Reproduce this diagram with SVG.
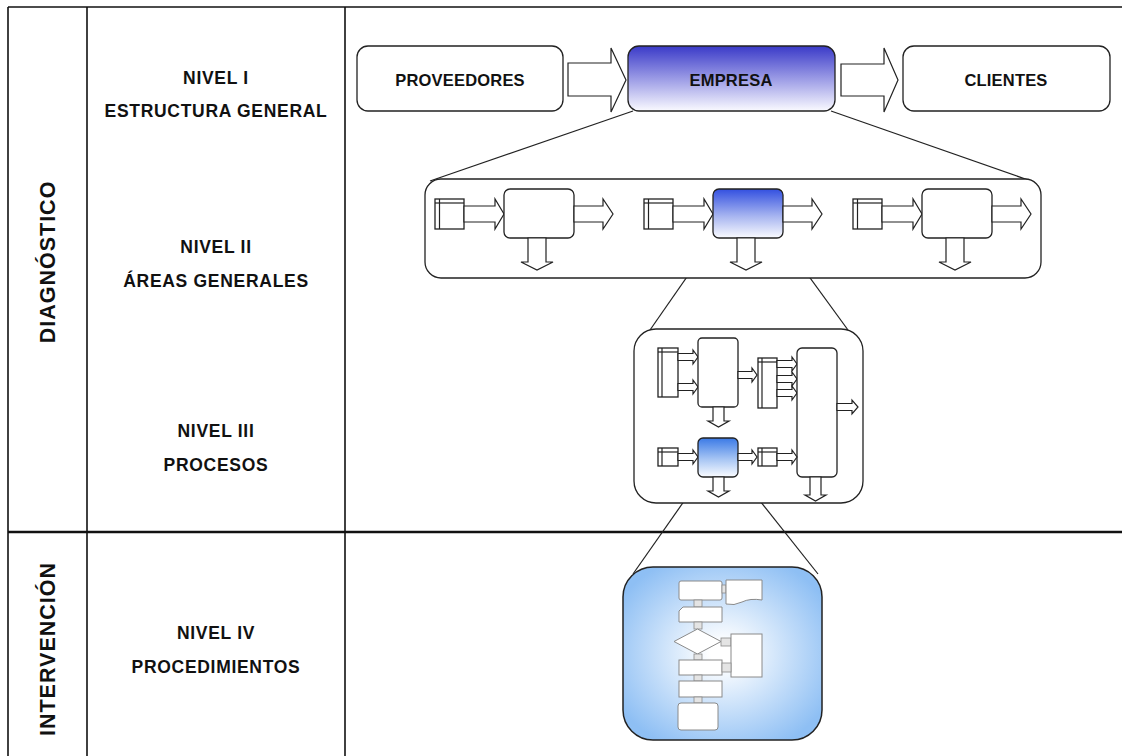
<svg xmlns="http://www.w3.org/2000/svg" width="1122" height="756" viewBox="0 0 1122 756">
<style>
.grid{stroke:#111;stroke-width:1.6;fill:none}
.lbl{font-family:"Liberation Sans",Arial,sans-serif;font-weight:bold;font-size:17.5px;letter-spacing:0.7px;fill:#111;text-anchor:middle}
.vlbl{font-family:"Liberation Sans",Arial,sans-serif;font-weight:bold;font-size:21.5px;letter-spacing:1px;fill:#111;text-anchor:middle}
.btxt{font-family:"Liberation Sans",Arial,sans-serif;font-weight:bold;font-size:16.5px;letter-spacing:0.2px;fill:#111;text-anchor:middle}
.box{fill:#fff;stroke:#222;stroke-width:1.3}
.arr{fill:#fff;stroke:#222;stroke-width:1.2;stroke-linejoin:miter}
.ln{stroke:#222;stroke-width:1.2;fill:none}
.fc{fill:#fff;stroke:#8a8a8a;stroke-width:1}
.fcc{fill:#e4e4e4;stroke:#8a8a8a;stroke-width:0.8}
.con{stroke:#222;stroke-width:1.2;fill:none}
</style>
<defs>
<linearGradient id="g1" x1="0" y1="0" x2="0" y2="1">
<stop offset="0" stop-color="#3a3ac8"/>
<stop offset="0.55" stop-color="#a4a4e8"/>
<stop offset="1" stop-color="#fafaff"/>
</linearGradient>
<linearGradient id="g2" x1="0" y1="0" x2="0" y2="1">
<stop offset="0" stop-color="#3350e0"/>
<stop offset="0.55" stop-color="#a6b4f0"/>
<stop offset="1" stop-color="#fafbff"/>
</linearGradient>
<linearGradient id="g3" x1="0" y1="0" x2="0" y2="1">
<stop offset="0" stop-color="#3b7ae6"/>
<stop offset="0.55" stop-color="#a8c6f4"/>
<stop offset="1" stop-color="#fafcff"/>
</linearGradient>
<radialGradient id="g4" cx="0.5" cy="0.5" r="0.6">
<stop offset="0.1" stop-color="#ffffff"/>
<stop offset="1" stop-color="#8ebff4"/>
</radialGradient>
</defs>

<g id="table">
<line class="grid" x1="8" y1="7" x2="1122" y2="7"/>
<line class="grid" x1="8" y1="7" x2="8" y2="756"/>
<line class="grid" x1="87" y1="7" x2="87" y2="756"/>
<line class="grid" x1="345" y1="7" x2="345" y2="756"/>
<line x1="8" y1="532" x2="1122" y2="532" stroke="#111" stroke-width="2.6"/>
</g>

<g id="labels">
<text class="vlbl" transform="translate(55,262) rotate(-90)">DIAGNÓSTICO</text>
<text class="vlbl" transform="translate(55,649) rotate(-90)">INTERVENCIÓN</text>
<text class="lbl" x="216" y="84">NIVEL I</text>
<text class="lbl" x="216" y="117">ESTRUCTURA GENERAL</text>
<text class="lbl" x="216" y="253">NIVEL II</text>
<text class="lbl" x="216" y="287">ÁREAS GENERALES</text>
<text class="lbl" x="216" y="437">NIVEL III</text>
<text class="lbl" x="216" y="471">PROCESOS</text>
<text class="lbl" x="216" y="639">NIVEL IV</text>
<text class="lbl" x="216" y="673">PROCEDIMIENTOS</text>
</g>

<g id="connectors">
<line class="con" x1="633" y1="111" x2="430" y2="181"/>
<line class="con" x1="831" y1="111" x2="1031" y2="181"/>
<line class="con" x1="714" y1="238" x2="650" y2="330"/>
<line class="con" x1="781" y1="238" x2="848" y2="330"/>
<line class="con" x1="701" y1="477" x2="633" y2="574"/>
<line class="con" x1="741" y1="477" x2="818" y2="574"/>
</g>

<g id="nivel1">
<g id="proveedores">
<rect class="box" x="357" y="46" width="206" height="65" rx="11"/>
<text class="btxt" x="460" y="86">PROVEEDORES</text>
</g>
<polygon class="arr" points="568,63 611,63 611,48 626,80 611,112 611,96 568,96"/>
<g id="empresa">
<rect x="628" y="46" width="207" height="65" rx="11" fill="url(#g1)" stroke="#222" stroke-width="1.3"/>
<text class="btxt" x="731" y="86">EMPRESA</text>
</g>
<polygon class="arr" points="841,64 884,64 884,48 898,80 884,112 884,96 841,96"/>
<g id="clientes">
<rect class="box" x="903" y="46" width="207" height="65" rx="11"/>
<text class="btxt" x="1006" y="86">CLIENTES</text>
</g>
</g>

<g id="nivel2">
<rect class="box" x="425" y="179" width="616" height="99" rx="16"/>
<g id="area1">
<rect class="box" x="435" y="199" width="29" height="30"/>
<line class="ln" x1="439.5" y1="199" x2="439.5" y2="229"/>
<line class="ln" x1="435" y1="203" x2="464" y2="203"/>
<polygon class="arr" points="464,206 495,206 495,199 504,214 495,229 495,222 464,222"/>
<rect class="box" x="504" y="189" width="70" height="49" rx="6"/>
<polygon class="arr" points="574,206 603,206 603,199 613,214 603,229 603,222 574,222"/>
<polygon class="arr" points="528,238 546,238 546,262 553,262 537,270 521,262 528,262"/>
</g>
<g id="area2" transform="translate(209,0)">
<rect class="box" x="435" y="199" width="29" height="30"/>
<line class="ln" x1="439.5" y1="199" x2="439.5" y2="229"/>
<line class="ln" x1="435" y1="203" x2="464" y2="203"/>
<polygon class="arr" points="464,206 495,206 495,199 504,214 495,229 495,222 464,222"/>
<rect x="504" y="189" width="70" height="49" rx="6" fill="url(#g2)" stroke="#222" stroke-width="1.3"/>
<polygon class="arr" points="574,206 603,206 603,199 613,214 603,229 603,222 574,222"/>
<polygon class="arr" points="528,238 546,238 546,262 553,262 537,270 521,262 528,262"/>
</g>
<g id="area3" transform="translate(418,0)">
<rect class="box" x="435" y="199" width="29" height="30"/>
<line class="ln" x1="439.5" y1="199" x2="439.5" y2="229"/>
<line class="ln" x1="435" y1="203" x2="464" y2="203"/>
<polygon class="arr" points="464,206 495,206 495,199 504,214 495,229 495,222 464,222"/>
<rect class="box" x="504" y="189" width="70" height="49" rx="6"/>
<polygon class="arr" points="574,206 603,206 603,199 613,214 603,229 603,222 574,222"/>
<polygon class="arr" points="528,238 546,238 546,262 553,262 537,270 521,262 528,262"/>
</g>
</g>

<g id="nivel3">
<rect class="box" x="634" y="329" width="229" height="174" rx="22"/>
<g id="p-in1">
<rect class="box" x="658" y="348" width="20" height="49"/>
<line class="ln" x1="662" y1="348" x2="662" y2="397"/>
<line class="ln" x1="658" y1="352" x2="678" y2="352"/>
</g>
<polygon class="arr" points="678,353.5 693,353.5 693,350 698,357 693,364 693,360.5 678,360.5"/>
<polygon class="arr" points="678,383.5 693,383.5 693,380 698,387 693,394 693,390.5 678,390.5"/>
<rect id="p-proc1" class="box" x="698" y="338" width="40" height="69" rx="4"/>
<polygon class="arr" points="738,371.5 752,371.5 752,368 757,375 752,382 752,378.5 738,378.5"/>
<polygon class="arr" points="713,407 724,407 724,421 729,421 718.5,427 708,421 713,421"/>
<g id="p-in2">
<rect class="box" x="758" y="358" width="19" height="50"/>
<line class="ln" x1="762" y1="358" x2="762" y2="408"/>
<line class="ln" x1="758" y1="362" x2="777" y2="362"/>
</g>
<polygon class="arr" points="777,360.5 792,360.5 792,357 797,364 792,371 792,367.5 777,367.5"/>
<polygon class="arr" points="777,375.5 792,375.5 792,372 797,379 792,386 792,382.5 777,382.5"/>
<polygon class="arr" points="777,389.5 792,389.5 792,386 797,393 792,400 792,396.5 777,396.5"/>
<rect id="p-tall" class="box" x="797" y="348" width="40" height="129" rx="5"/>
<polygon class="arr" points="837,403.5 852,403.5 852,400 858,407 852,414 852,410.5 837,410.5"/>
<polygon class="arr" points="810,477 821,477 821,495 826,495 815.5,501 805,495 810,495"/>
<g id="p-in3">
<rect class="box" x="658" y="448" width="20" height="18"/>
<line class="ln" x1="662" y1="448" x2="662" y2="466"/>
<line class="ln" x1="658" y1="452" x2="678" y2="452"/>
</g>
<polygon class="arr" points="678,453.5 693,453.5 693,450 698,457 693,464 693,460.5 678,460.5"/>
<rect id="p-blue" x="698" y="438" width="40" height="39" rx="5" fill="url(#g3)" stroke="#222" stroke-width="1.3"/>
<polygon class="arr" points="738,453.5 752,453.5 752,450 757,457 752,464 752,460.5 738,460.5"/>
<polygon class="arr" points="713,477 724,477 724,491 729,491 718.5,497 708,491 713,491"/>
<g id="p-in4">
<rect class="box" x="758" y="448" width="19" height="18"/>
<line class="ln" x1="762" y1="448" x2="762" y2="466"/>
<line class="ln" x1="758" y1="452" x2="777" y2="452"/>
</g>
<polygon class="arr" points="777,453.5 792,453.5 792,450 797,457 792,464 792,460.5 777,460.5"/>
</g>

<g id="nivel4">
<rect x="623" y="567" width="199" height="173" rx="30" fill="url(#g4)" stroke="#222" stroke-width="1.5"/>
<rect class="fc" x="679" y="581" width="43" height="19" rx="2"/>
<rect class="fcc" x="722" y="585" width="4" height="8"/>
<path class="fc" d="M726,580 H762 V600 Q750,598 742,602 Q734,606 726,604 Z"/>
<rect class="fcc" x="694" y="600" width="8" height="7"/>
<path class="fc" d="M683,607 H722 V622 H679 V611 Z"/>
<rect class="fcc" x="694" y="622" width="8" height="7"/>
<polygon class="fc" points="697.5,629 721,641.5 697.5,654 674,641.5"/>
<rect class="fcc" x="721" y="638" width="10" height="8"/>
<rect class="fc" x="731" y="634" width="31" height="43"/>
<rect class="fcc" x="694" y="654" width="8" height="6"/>
<rect class="fc" x="679" y="660" width="43" height="15"/>
<rect class="fcc" x="722" y="663" width="9" height="9"/>
<rect class="fcc" x="694" y="675" width="8" height="6"/>
<rect class="fc" x="679" y="681" width="43" height="16"/>
<rect class="fcc" x="694" y="697" width="8" height="6"/>
<rect class="fc" x="678" y="703" width="40" height="27" rx="3"/>
</g>
</svg>
